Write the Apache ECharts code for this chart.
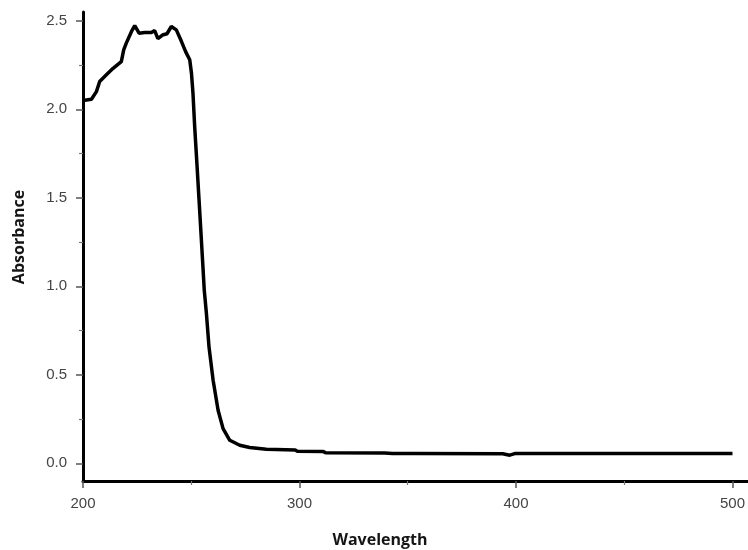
<!DOCTYPE html>
<html>
<head>
<meta charset="utf-8">
<script src="https://cdn.jsdelivr.net/npm/echarts@6/dist/echarts.min.js"></script>
<style>html,body{margin:0;padding:0;background:#fff;}#c{width:748px;height:550px;}</style>
</head>
<body>
<div id="c"></div>
<script>
const wavelength = [200.0, 203.9, 206.2, 207.7, 210.8, 213.9, 217.7, 218.8, 220.0, 222.4, 223.9, 225.9, 228.5, 231.6, 233.1, 234.6, 236.7, 238.8, 240.8, 243.1, 245.5, 247.4, 249.3, 250.1, 250.8, 251.6, 252.7, 253.6, 254.5, 255.4, 256.0, 257.0, 258.2, 260.1, 262.4, 264.7, 267.8, 272.4, 277.0, 284.7, 298.0, 299.0, 311.0, 312.0, 339.4, 343.0, 353.2, 393.9, 397.1, 399.4, 450.0, 500.0];
const absorbance = [2.05, 2.057, 2.10, 2.157, 2.195, 2.232, 2.27, 2.336, 2.374, 2.44, 2.473, 2.43, 2.434, 2.434, 2.445, 2.40, 2.42, 2.427, 2.468, 2.449, 2.383, 2.326, 2.28, 2.204, 2.09, 1.90, 1.676, 1.488, 1.30, 1.11, 0.98, 0.847, 0.658, 0.469, 0.30, 0.196, 0.13, 0.102, 0.089, 0.079, 0.075, 0.068, 0.066, 0.060, 0.058, 0.055, 0.055, 0.054, 0.046, 0.055, 0.055, 0.055];
const xTicks = [200, 300, 400, 500];
const xMinorTicks = [250, 350, 450];
const yTicks = [0, 0.5, 1.0, 1.5, 2.0, 2.5];
const yMinorTicks = [0.25, 0.75, 1.25, 1.75, 2.25];
const xTitle = 'Wavelength';
const yTitle = 'Absorbance';

const chart = echarts.init(document.getElementById('c'), null, {renderer: 'canvas'});
const labelStyle = {color: '#444', fontFamily: 'Liberation Sans', fontSize: 15};
chart.setOption({
  animation: false,
  backgroundColor: '#fff',
  grid: {left: 83, right: 0, top: 12, bottom: 69, containLabel: false},
  xAxis: [{
    type: 'value', min: 200, max: 507,
    axisLine: {show: true, onZero: false, lineStyle: {color: '#000', width: 3}},
    axisTick: {show: true, customValues: xTicks, length: 7, lineStyle: {color: '#555', width: 1.5}},
    axisLabel: {show: true, customValues: xTicks, margin: 15, formatter: v => String(v), ...labelStyle},
    splitLine: {show: false}
  }, {
    type: 'value', min: 200, max: 507, position: 'bottom',
    axisLine: {show: false, onZero: false},
    axisTick: {show: true, customValues: xMinorTicks, length: 4, lineStyle: {color: '#777', width: 1.2}},
    axisLabel: {show: false},
    splitLine: {show: false}
  }],
  yAxis: [{
    type: 'value', min: -0.1, max: 2.55,
    axisLine: {show: true, onZero: false, lineStyle: {color: '#000', width: 3}},
    axisTick: {show: true, customValues: yTicks, length: 7, lineStyle: {color: '#555', width: 1.5}},
    axisLabel: {show: true, customValues: yTicks, margin: 16, formatter: v => v.toFixed(1), ...labelStyle},
    splitLine: {show: false}
  }, {
    type: 'value', min: -0.1, max: 2.55, position: 'left',
    axisLine: {show: false, onZero: false},
    axisTick: {show: true, customValues: yMinorTicks, length: 4, lineStyle: {color: '#777', width: 1.2}},
    axisLabel: {show: false},
    splitLine: {show: false}
  }],
  graphic: [{
    type: 'text', x: 380, y: 540,
    style: {text: xTitle, fill: '#151515', font: 'bold 16px "Open Sans"', align: 'center', verticalAlign: 'middle'}
  }, {
    type: 'text', x: 19, y: 237, rotation: Math.PI / 2,
    style: {text: yTitle, fill: '#151515', font: 'bold 16px "Open Sans"', align: 'center', verticalAlign: 'middle'}
  }],
  series: [{
    type: 'line',
    xAxisIndex: 0, yAxisIndex: 0,
    data: wavelength.map((w, i) => [w, absorbance[i]]),
    showSymbol: false,
    lineStyle: {color: '#000', width: 3.5},
    itemStyle: {color: '#000'}
  }]
});
</script>
</body>
</html>
